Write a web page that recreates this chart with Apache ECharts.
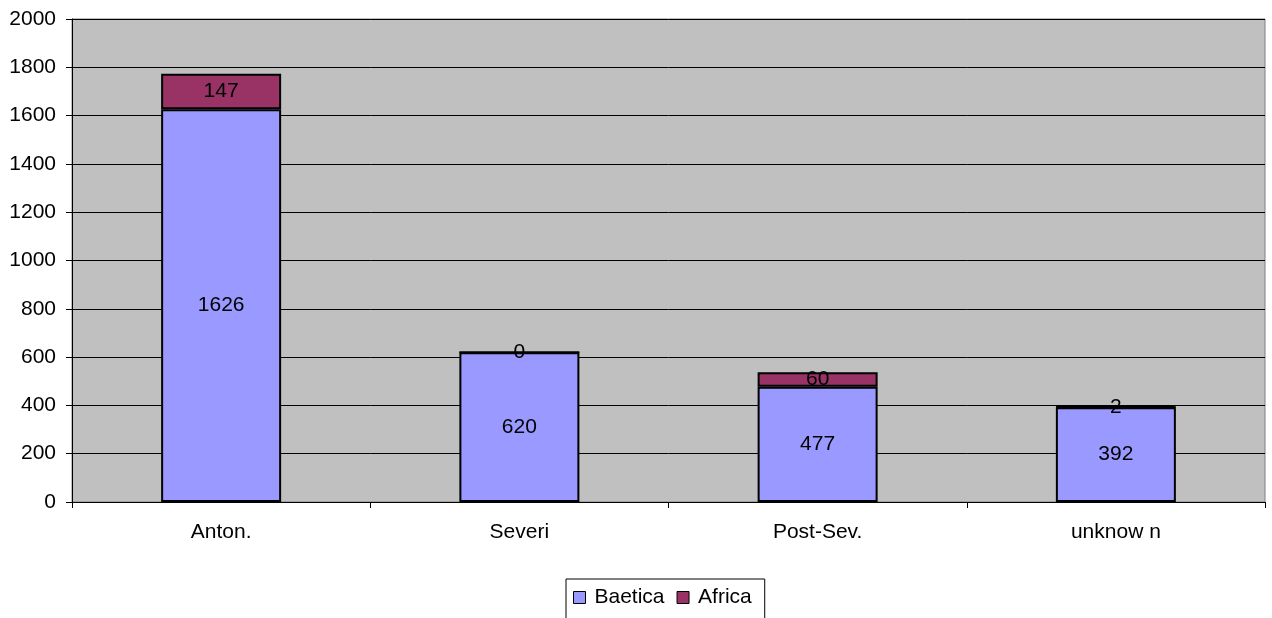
<!DOCTYPE html>
<html>
<head>
<meta charset="utf-8">
<script src="https://cdn.jsdelivr.net/npm/echarts@6/dist/echarts.min.js"></script>
<style>
html,body{margin:0;padding:0;background:#fff;}
#chart{width:1272px;height:618px;}
</style>
</head>
<body>
<div id="chart"></div>
<script>
// Finds by period and province of origin
const categories = ['Anton.', 'Severi', 'Post-Sev.', 'unknow n'];
const baetica = [1626, 620, 477, 392];
const africa = [147, 0, 60, 2];

const font = 'Liberation Sans, Arial, sans-serif';
const chart = echarts.init(document.getElementById('chart'));

const barLabel = {
  show: true,
  position: 'inside',
  color: '#000',
  fontFamily: font,
  fontSize: 21
};

chart.setOption({
  animation: false,
  grid: {
    left: 72, right: 7, top: 19, bottom: 116,
    show: true,
    backgroundColor: '#C0C0C0',
    borderColor: '#808080',
    borderWidth: 1
  },
  legend: {
    bottom: -14,
    left: 566,
    data: ['Baetica', 'Africa'],
    icon: 'rect',
    itemWidth: 12,
    itemHeight: 12,
    itemGap: 12,
    borderColor: '#000',
    borderWidth: 1,
    padding: [8, 13, 24, 7],
    itemStyle: { borderColor: '#000', borderWidth: 1 },
    textStyle: { color: '#000', fontFamily: font, fontSize: 21, padding: [0, 0, 0, 4] }
  },
  xAxis: {
    type: 'category',
    data: categories,
    axisLine: { lineStyle: { color: '#000', width: 1 } },
    axisTick: { show: true, alignWithLabel: false, length: 6, lineStyle: { color: '#000' } },
    axisLabel: { color: '#000', fontFamily: font, fontSize: 21, margin: 20 }
  },
  yAxis: {
    type: 'value',
    min: 0,
    max: 2000,
    interval: 200,
    axisLine: { show: true, lineStyle: { color: '#000', width: 1 } },
    axisTick: { show: true, length: 6, lineStyle: { color: '#000' } },
    axisLabel: {
      color: '#000', fontFamily: font, fontSize: 21, margin: 16,
      formatter: v => String(v)
    },
    splitLine: { lineStyle: { color: '#000', width: 1 } }
  },
  series: [
    {
      name: 'Baetica',
      type: 'bar',
      stack: 'total',
      barWidth: 120,
      data: baetica,
      itemStyle: { color: '#9999FF', borderColor: '#000', borderWidth: 2 },
      label: barLabel
    },
    {
      name: 'Africa',
      type: 'bar',
      stack: 'total',
      barWidth: 120,
      data: africa,
      itemStyle: { color: '#993366', borderColor: '#000', borderWidth: 2 },
      label: barLabel
    }
  ]
});
</script>
</body>
</html>
